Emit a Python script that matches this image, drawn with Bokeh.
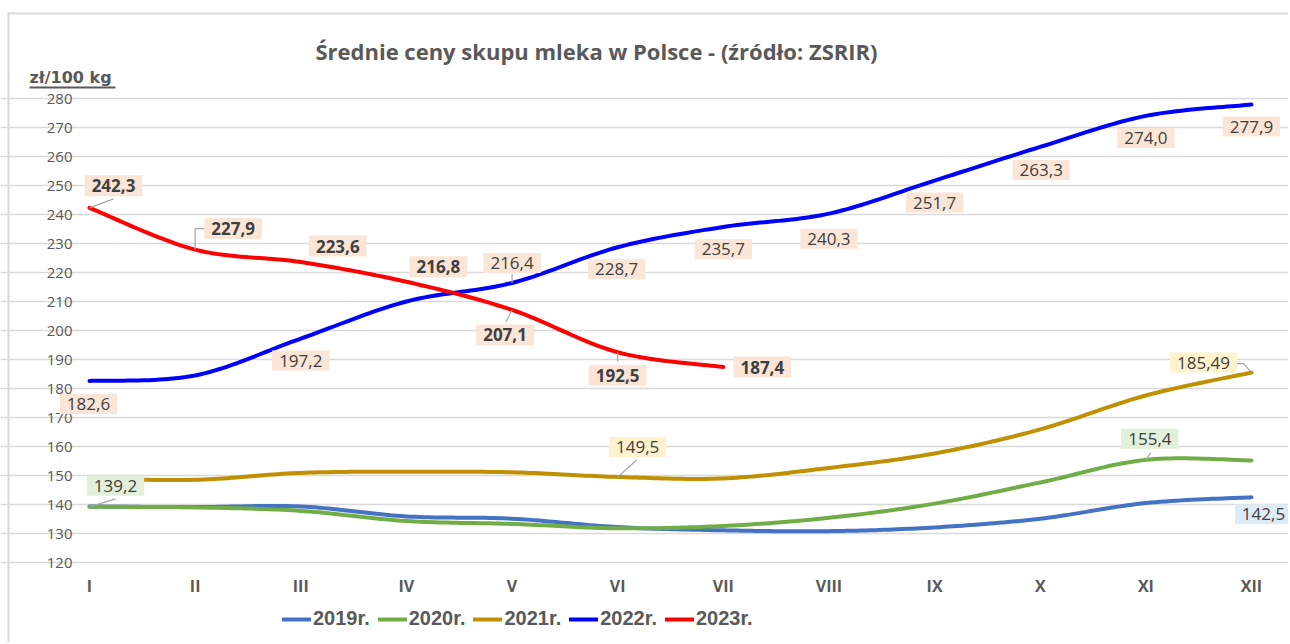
import numpy as np
from bokeh.plotting import figure
from bokeh.models import (Label, Legend, LegendItem, FixedTicker, BoxAnnotation, Range1d,
                          LinearAxis, Grid)
from bokeh.embed import file_html
from bokeh.resources import INLINE

# ---------------- data ----------------
months = ["I", "II", "III", "IV", "V", "VI", "VII", "VIII", "IX", "X", "XI", "XII"]
y2019 = [139.3, 139.1, 139.3, 135.9, 135.1, 132.2, 131.1, 130.8, 132.1, 135.1, 140.5, 142.5]
y2020 = [139.2, 139.0, 137.8, 134.3, 133.3, 131.8, 132.6, 135.4, 140.3, 147.6, 155.4, 155.2]
y2021 = [149.0, 148.5, 150.9, 151.3, 151.1, 149.5, 149.0, 152.6, 157.6, 165.9, 177.6, 185.49]
y2022 = [182.6, 184.5, 197.2, 210.0, 216.4, 228.7, 235.7, 240.3, 251.7, 263.3, 274.0, 277.9]
y2023 = [242.3, 227.9, 223.6, 216.8, 207.1, 192.5, 187.4]
series_names = ["2019r.", "2020r.", "2021r.", "2022r.", "2023r."]
yticks = list(range(120, 281, 10))
title_text = "Średnie ceny skupu mleka w Polsce - (źródło: ZSRIR)"
unit_text = "zł/100 kg"

# ---------------- styles ----------------
colors = ["#4472C4", "#70AD47", "#BF9000", "#0000FF", "#FF0000"]
box_fill = ["#DDEBF7", "#E2EFDA", "#FFF2CC", "#FBE5D6", "#FBE5D6"]
bold_lbl = [False, False, False, False, True]
lbl_idx = [[11], [0, 10], [5, 11], [0, 2, 4, 5, 6, 7, 8, 9, 10, 11], [0, 1, 2, 3, 4, 5, 6]]
lbl_off = [
    [(12, 17)],
    [(26, -21), (4, -21)],
    [(20, -30), (-48, -10)],
    [(-1, 23), (0, 22), (0, -20), (-1, 22), (0, 22), (0, 25), (0, 22), (1, 23), (0, 22), (0, 22)],
    [(24, -22), (38, -21), (37, -16), (32, -15), (-7, 25), (0, 23), (39, 0)],
]
leaders = {
    (4, 0): [(0, 0), (24, -9)],
    (4, 1): [(0, 0), (0, -21), (11, -21)],
    (3, 4): [(0, 0), (0, -9)],
    (4, 4): [(0, 0), (-6, 12)],
    (4, 5): [(0, 0), (0, 9)],
    (2, 5): [(0, 0), (19, -17)],
    (2, 11): [(0, 0), (-8, -9), (-16, -9)],
    (1, 0): [(0, 0), (26, -8)],
    (1, 10): [(0, 0), (5, -7)],
}

W, H = 1288, 642
PX_L, PX_R, PX_T, PX_B = 89, 1251, 98, 562
xmin, xmax, ymin, ymax = 0, 11, 120, 280
px_x = (PX_R - PX_L) / (xmax - xmin)
px_y = (PX_B - PX_T) / (ymax - ymin)
x_range = Range1d(xmin - PX_L / px_x, xmax + (W - PX_R) / px_x)
y_range = Range1d(ymin - (H - PX_B) / px_y, ymax + PX_T / px_y)


def smooth(ys, n=24):
    P = np.column_stack([np.arange(len(ys)), ys]).astype(float)
    ext = np.vstack([P[0], P, P[-1]])
    out = []
    t = np.linspace(0, 1, n)[:, None]
    for i in range(len(P) - 1):
        p0, p1, p2, p3 = ext[i], ext[i + 1], ext[i + 2], ext[i + 3]
        c1 = p1 + (p2 - p0) / 6
        c2 = p2 - (p3 - p1) / 6
        seg = (1 - t) ** 3 * p1 + 3 * (1 - t) ** 2 * t * c1 + 3 * (1 - t) * t ** 2 * c2 + t ** 3 * p2
        out.append(seg if i == 0 else seg[1:])
    pts = np.vstack(out)
    return pts[:, 0], pts[:, 1]


p = figure(width=W, height=H, x_range=x_range, y_range=y_range,
           x_axis_location=None, y_axis_location=None,
           output_backend="svg", toolbar_location=None,
           min_border_left=0, min_border_right=0, min_border_top=0, min_border_bottom=0,
           background_fill_color="white", border_fill_color="white")
p.outline_line_color = None
p.grid.visible = False

p.add_layout(Grid(dimension=1, ticker=FixedTicker(ticks=yticks), bounds=(xmin, xmax),
                  grid_line_color="#D9D9D9", grid_line_width=1.5))

yaxis = LinearAxis(fixed_location=xmin, ticker=FixedTicker(ticks=yticks),
                   axis_line_color=None, major_tick_line_color=None, minor_tick_line_color=None,
                   major_label_standoff=11, major_label_text_font="Open Sans",
                   major_label_text_font_size="15px", major_label_text_color="#595959")
p.add_layout(yaxis, "left")
xaxis = LinearAxis(fixed_location=ymin, ticker=FixedTicker(ticks=list(range(len(months)))),
                   major_label_overrides={i: m for i, m in enumerate(months)},
                   axis_line_color=None, major_tick_line_color=None, minor_tick_line_color=None,
                   major_label_standoff=6, major_label_text_font="Open Sans",
                   major_label_text_font_style="bold",
                   major_label_text_font_size="16px", major_label_text_color="#595959")
p.add_layout(xaxis, "below")

all_series = [y2019, y2020, y2021, y2022, y2023]
renderers = []
for ys, c in zip(all_series, colors):
    sx, sy = smooth(ys)
    r = p.line(sx, sy, line_color=c, line_width=4, line_cap="round", line_join="round")
    renderers.append(r)

for (si, idx), pts in leaders.items():
    x0, y0 = idx, all_series[si][idx]
    xs = [x0 + dx / px_x for dx, dy in pts]
    ys_ = [y0 - dy / px_y for dx, dy in pts]
    p.line(xs, ys_, line_color="#A6A6A6", line_width=1.2)

for si, ys in enumerate(all_series):
    for k, idx in enumerate(lbl_idx[si]):
        dx, dy = lbl_off[si][k]
        txt = f"{ys[idx]:.2f}" if si == 2 and idx == 11 else f"{ys[idx]:.1f}"
        txt = txt.replace(".", ",")
        p.add_layout(Label(x=idx, y=ys[idx], x_offset=dx, y_offset=-dy, text=txt,
                           text_align="center", text_baseline="middle",
                           text_font="Open Sans", text_font_size="17px",
                           text_font_style="bold" if bold_lbl[si] else "normal",
                           text_color="#404040", background_fill_color=box_fill[si],
                           padding=dict(left=7, right=7, top=4, bottom=4)))

# chart border (top & left edges)
border_kw = dict(left_units="screen", right_units="screen", bottom_units="screen",
                 top_units="screen", fill_color="#D9D9D9", fill_alpha=1, line_color=None)
p.add_layout(BoxAnnotation(left=7, right=W, bottom=H - 14, top=H - 12, **border_kw))
p.add_layout(BoxAnnotation(left=7, right=9, bottom=0, top=H - 12, **border_kw))

p.add_layout(Label(x=596, y=H - 50, x_units="screen", y_units="screen",
                   text=title_text, text_align="center", text_baseline="middle",
                   text_font="Open Sans", text_font_size="22px", text_font_style="bold",
                   text_color="#595959"))
p.add_layout(Label(x=29, y=H - 77, x_units="screen", y_units="screen",
                   text=unit_text, text_align="left", text_baseline="middle",
                   text_font="DejaVu Sans", text_font_size="16px", text_font_style="bold",
                   text_color="#595959"))
p.add_layout(BoxAnnotation(left=29, right=115, bottom=H - 88, top=H - 86,
                           left_units="screen", right_units="screen",
                           bottom_units="screen", top_units="screen",
                           fill_color="#595959", fill_alpha=1, line_color=None))

legend = Legend(items=[LegendItem(label=n, renderers=[r]) for n, r in zip(series_names, renderers)],
                orientation="horizontal", location=(282, H - 630),
                glyph_width=29, glyph_height=20, label_standoff=2, spacing=8,
                padding=0, margin=0, border_line_color=None, background_fill_alpha=0,
                label_text_font="Liberation Sans",
                label_text_font_style="bold", label_text_font_size="20px",
                label_text_color="#595959")
p.add_layout(legend)

open("out.html", "w").write(file_html(p, INLINE))
